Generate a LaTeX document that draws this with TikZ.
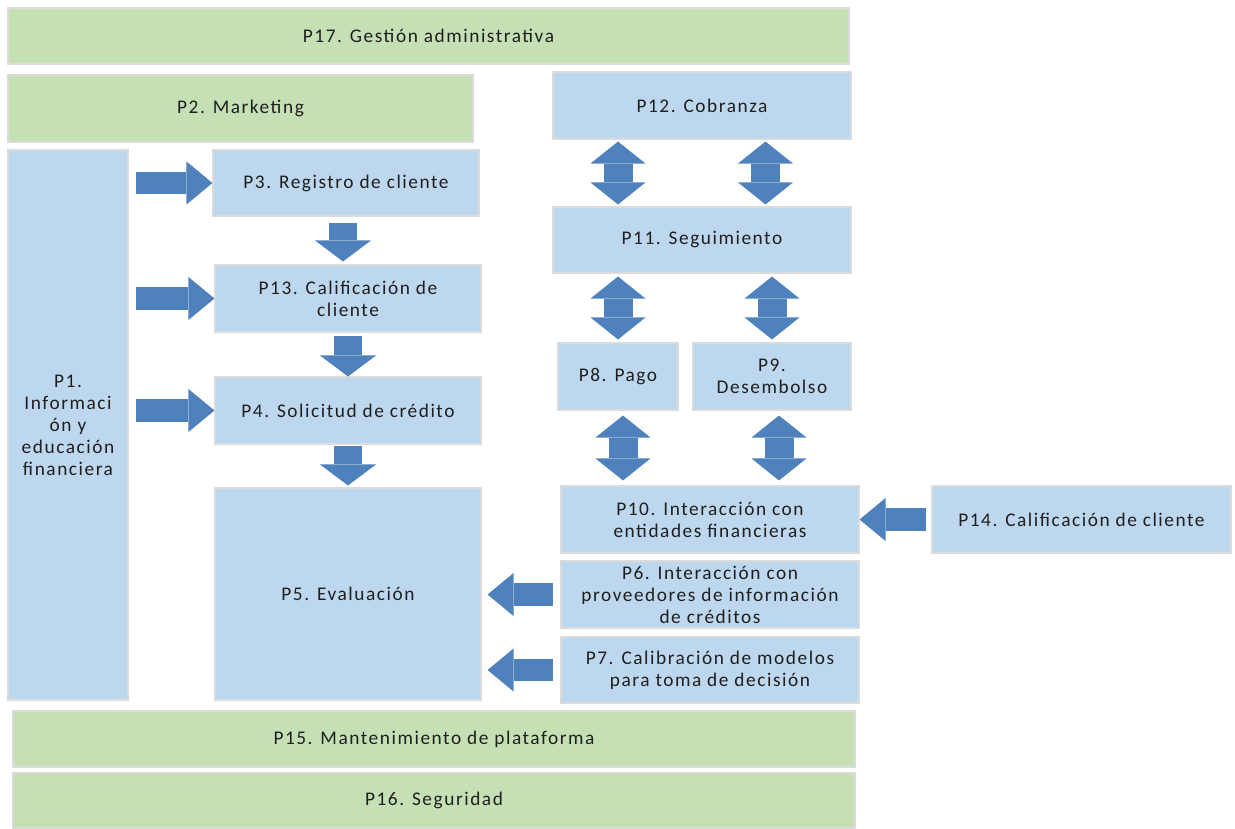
\documentclass[tikz,border=0pt]{standalone}
\usepackage{fontspec}
\usepackage{xcolor}
\usepackage{tikz}
\usetikzlibrary{arrows.meta}
\newfontfamily\boxfont{Carlito}[LetterSpace=8]
\definecolor{procgreen}{HTML}{C5E0B4}
\definecolor{procblue}{HTML}{BDD7EE}
\definecolor{arrowblue}{HTML}{4F81BD}

\begin{document}
\begin{tikzpicture}[
    box/.style={draw=black!14, line width=0.6pt, minimum width=#1, inner sep=0pt, align=center,
      text=black!88, font=\boxfont\fontsize{11}{12.5}\selectfont},
    gbox/.style={box=#1, fill=procgreen},
    bbox/.style={box=#1, fill=procblue},
    harrow/.style={draw=arrowblue, line width=0.45cm,
      -{Triangle[width=0.86cm,length=0.52cm,line width=0pt]}},
    varrow/.style={draw=arrowblue, line width=0.56cm,
      -{Triangle[width=1.12cm,length=0.42cm,line width=0pt]}},
    dvarrow/.style={draw=arrowblue, line width=0.58cm,
      {Triangle[width=1.1cm,length=0.44cm,line width=0pt]}-{Triangle[width=1.1cm,length=0.44cm,line width=0pt]}}
  ]
  \useasboundingbox (0,0) rectangle (24.7,-16.56);
  % franjas de soporte
  \node[gbox=16.82cm, minimum height=1.12cm] (p17) at (8.57,-0.72) {P17. Gestión administrativa};
  \node[gbox=9.3cm, minimum height=1.34cm] (p2) at (4.81,-2.17) {P2. Marketing};
  \node[gbox=16.84cm, minimum height=1.12cm] (p15) at (8.68,-14.78) {P15. Mantenimiento de plataforma};
  \node[gbox=16.84cm, minimum height=1.1cm] (p16) at (8.68,-16.01) {P16. Seguridad};
  % procesos
  \node[bbox=2.4cm, minimum height=11cm] (p1) at (1.36,-8.5)
    {P1.\\ Informaci\\ ón y\\ educación\\ financiera};
  \node[bbox=5.32cm, minimum height=1.32cm] (p3) at (6.92,-3.66) {P3. Registro de cliente};
  \node[bbox=5.32cm, minimum height=1.34cm] (p13) at (6.96,-5.97) {P13. Calificación de\\ cliente};
  \node[bbox=5.32cm, minimum height=1.34cm] (p4) at (6.96,-8.21) {P4. Solicitud de crédito};
  \node[bbox=5.32cm, minimum height=4.24cm] (p5) at (6.96,-11.88) {P5. Evaluación};
  \node[bbox=5.96cm, minimum height=1.34cm] (p12) at (14.04,-2.11) {P12. Cobranza};
  \node[bbox=5.96cm, minimum height=1.32cm] (p11) at (14.04,-4.80) {P11. Seguimiento};
  \node[bbox=2.4cm, minimum height=1.34cm] (p8) at (12.36,-7.53) {P8. Pago};
  \node[bbox=3.16cm, minimum height=1.34cm] (p9) at (15.44,-7.53) {P9.\\ Desembolso};
  \node[bbox=5.96cm, minimum height=1.34cm] (p10) at (14.20,-10.39) {P10. Interacción con\\ entidades financieras};
  \node[bbox=5.98cm, minimum height=1.34cm] (p14) at (21.63,-10.39) {P14. Calificación de cliente};
  \node[bbox=5.96cm, minimum height=1.34cm] (p6) at (14.20,-11.89)
    {P6. Interacción con\\ proveedores de información\\ de créditos};
  \node[bbox=5.96cm, minimum height=1.32cm] (p7) at (14.20,-13.40)
    {P7. Calibración de modelos\\ para toma de decisión};
  % flechas
  \foreach \t in {p3,p13,p4}
    \draw[harrow, shorten <=0.14cm] (p1.east |- \t.west) -- (\t.west);
  \draw[varrow, shorten <=0.12cm, shorten >=0.06cm] ([xshift=-0.06cm]p3.south) -- ([xshift=-0.06cm]p3.south |- p13.north);
  \draw[varrow, shorten <=0.06cm] (p13.south) -- (p4.north);
  \draw[varrow, shorten <=0.02cm, shorten >=0.04cm] (p4.south) -- (p5.north);
  \draw[dvarrow, shorten <=0.04cm, shorten >=0.04cm] (p8.north |- p12.south) -- (p8.north |- p11.north);
  \draw[dvarrow, shorten <=0.04cm, shorten >=0.04cm] ([xshift=-0.13cm]p9.north |- p12.south) -- ([xshift=-0.13cm]p9.north |- p11.north);
  \draw[dvarrow, shorten <=0.06cm, shorten >=0.06cm] (p8.north |- p11.south) -- (p8.north);
  \draw[dvarrow, shorten <=0.06cm, shorten >=0.06cm] (p9.north |- p11.south) -- (p9.north);
  \draw[dvarrow, shorten <=0.1cm, shorten >=0.1cm] ([xshift=0.1cm]p8.south) -- ([xshift=0.1cm]p8.south |- p10.north);
  \draw[dvarrow, shorten <=0.1cm, shorten >=0.1cm] ([xshift=0.14cm]p9.south) -- ([xshift=0.14cm]p9.south |- p10.north);
  \draw[harrow, shorten <=0.1cm] (p14.west) -- (p10.east);
  \draw[harrow, shorten <=0.15cm, shorten >=0.12cm] (p6.west) -- (p6.west -| p5.east);
  \draw[harrow, shorten <=0.15cm, shorten >=0.12cm] (p7.west) -- (p7.west -| p5.east);
\end{tikzpicture}
\end{document}
